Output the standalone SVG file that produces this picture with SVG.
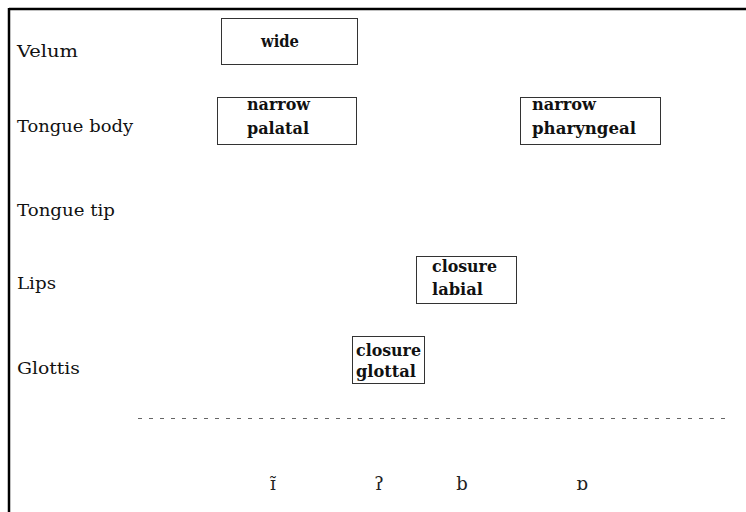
<svg xmlns="http://www.w3.org/2000/svg" width="746" height="512" viewBox="0 0 746 512">
<style>
.lab{font-family:"DejaVu Serif","Liberation Serif",serif;font-size:16px;fill:#111}
.bx{font-family:"DejaVu Serif","Liberation Serif",serif;font-size:16.5px;font-weight:bold;fill:#111}
.box{fill:none;stroke:#333;stroke-width:1}
.sym{font-family:"DejaVu Serif","Liberation Serif",serif;font-size:18px;fill:#222;text-anchor:middle}
</style>
<rect width="746" height="512" fill="#fff"/>
<g id="frame" stroke="#000" stroke-width="2.5" fill="none">
<line x1="9" y1="9" x2="746" y2="9"/>
<line x1="9" y1="8" x2="9" y2="512"/>
</g>
<g id="labels">
<text class="lab" x="17" y="57" textLength="61" lengthAdjust="spacingAndGlyphs">Velum</text>
<text class="lab" x="17" y="132" textLength="116" lengthAdjust="spacingAndGlyphs">Tongue body</text>
<text class="lab" x="17" y="216" textLength="98" lengthAdjust="spacingAndGlyphs">Tongue tip</text>
<text class="lab" x="17" y="289" textLength="39" lengthAdjust="spacingAndGlyphs">Lips</text>
<text class="lab" x="17" y="374" textLength="63" lengthAdjust="spacingAndGlyphs">Glottis</text>
</g>
<g id="node-wide">
<rect class="box" x="221.5" y="18.5" width="136" height="46"/>
<text class="bx" x="261" y="47" textLength="38" lengthAdjust="spacingAndGlyphs">wide</text>
</g>
<g id="node-narrow-palatal">
<rect class="box" x="217.5" y="97.5" width="139" height="47"/>
<text class="bx" x="247" y="110" textLength="63" lengthAdjust="spacingAndGlyphs">narrow</text>
<text class="bx" x="247" y="134" textLength="62" lengthAdjust="spacingAndGlyphs">palatal</text>
</g>
<g id="node-narrow-pharyngeal">
<rect class="box" x="520.5" y="97.5" width="140" height="47"/>
<text class="bx" x="532" y="110" textLength="64" lengthAdjust="spacingAndGlyphs">narrow</text>
<text class="bx" x="532" y="134" textLength="104" lengthAdjust="spacingAndGlyphs">pharyngeal</text>
</g>
<g id="node-closure-labial">
<rect class="box" x="416.5" y="256.5" width="100" height="47"/>
<text class="bx" x="432" y="272" textLength="65" lengthAdjust="spacingAndGlyphs">closure</text>
<text class="bx" x="432" y="295" textLength="51" lengthAdjust="spacingAndGlyphs">labial</text>
</g>
<g id="node-closure-glottal">
<rect class="box" x="352.5" y="336.5" width="72" height="47"/>
<text class="bx" x="356" y="356" textLength="65" lengthAdjust="spacingAndGlyphs">closure</text>
<text class="bx" x="356" y="377" textLength="60" lengthAdjust="spacingAndGlyphs">glottal</text>
</g>
<g id="connectors">
<line x1="138" y1="418.5" x2="728" y2="418.5" stroke="#666" stroke-width="1" stroke-dasharray="4 7"/>
</g>
<g id="symbols">
<text class="sym" x="273" y="490">ɪ̃</text>
<text class="sym" x="379" y="490">ʔ</text>
<text class="sym" x="462" y="490">b</text>
<text class="sym" x="582" y="490">ɒ</text>
</g>
</svg>
